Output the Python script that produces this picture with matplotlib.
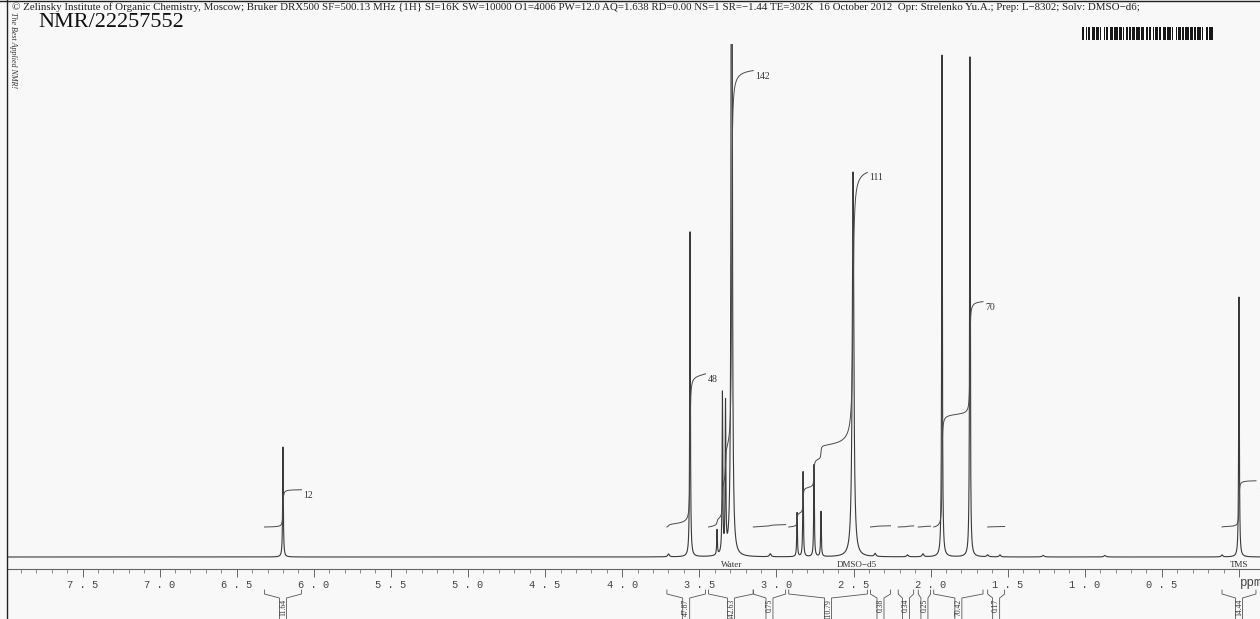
import numpy as np
import matplotlib
matplotlib.use("Agg")
import matplotlib.pyplot as plt

# 1H spectrum: shift (ppm), height (px above baseline), half width (ppm)
peak_ppm = [6.200, 3.700, 3.560, 3.385, 3.350, 3.330, 3.290, 3.040, 2.866, 2.827,
            2.756, 2.711, 2.503, 2.360, 2.150, 2.050, 1.926, 1.745, 1.630, 1.550,
            1.270, 0.870, 0.110, 0.000]
peak_height = [110, 3, 325, 25, 160, 148, 1450, 3, 44, 85,
               92, 45, 385, 3, 2, 3, 502, 500, 2, 2,
               1.5, 1.5, 2, 260]
peak_hw = [0.0025, 0.006, 0.0025, 0.0025, 0.0025, 0.0025, 0.003, 0.006, 0.0025, 0.0025,
           0.0025, 0.0025, 0.006, 0.006, 0.006, 0.006, 0.0025, 0.0025, 0.006, 0.006,
           0.008, 0.008, 0.006, 0.0025]

# integral regions (ppm) and values
int_start = [6.32, 3.71, 3.44, 3.15, 2.92, 2.39, 2.21, 2.08, 1.98, 1.63, 0.11]
int_end = [6.08, 3.46, 3.15, 2.94, 2.41, 2.26, 2.11, 2.00, 1.66, 1.52, -0.11]
int_values = [11.64, 47.87, 142.63, 0.75, 110.79, 0.38, 0.34, 0.25, 70.42, 0.17, 14.44]
int_labels = ["12", "48", "142", "", "111", "", "", "", "70", "", "14"]

solvent_names = ["Water", "DMSO\u2212d5", "TMS"]
solvent_ppm = [3.29, 2.48, 0.0]

tick_major = [7.5, 7.0, 6.5, 6.0, 5.5, 5.0, 4.5, 4.0, 3.5, 3.0, 2.5, 2.0, 1.5, 1.0, 0.5]

header = ("\u00a9 Zelinsky Institute of Organic Chemistry, Moscow; Bruker DRX500 SF=500.13 MHz {1H} "
          "SI=16K SW=10000 O1=4006 PW=12.0 AQ=1.638 RD=0.00 NS=1 SR=\u22121.44 TE=302K  "
          "16 October 2012  Opr: Strelenko Yu.A.; Prep: L\u22128302; Solv: DMSO\u2212d6;")
barcode = ("1101011011101101001011011101110110100101101101110111011010010110"
           "110111011101001011011011101101101110100110111")

W, H = 1260, 619
bg = "#f8f8f8"
ink = "#3a3a3a"


def px2ppm(px):
    return (1239 - px) / 154.2


x = np.linspace(8.1, -0.2, 60000)
spec = np.zeros_like(x)
for p, h, w in zip(peak_ppm, peak_height, peak_hw):
    spec += h * w ** 2 / ((x - p) ** 2 + w ** 2)

fig = plt.figure(figsize=(W / 100, H / 100), dpi=100, facecolor=bg)

ax = fig.add_axes([8 / W, (H - 569) / H, (W - 8) / W, (569 - 44) / H])
ax.set_facecolor(bg)
ax.plot(x, spec, color=ink, lw=0.8)
ax.set_xlim(px2ppm(8), px2ppm(W))
ax.set_ylim(-12, 513)
for s in ["top", "left", "right"]:
    ax.spines[s].set_visible(False)
ax.spines["bottom"].set_color("#666666")
ax.spines["bottom"].set_linewidth(0.8)
ax.set_yticks([])
ax.set_xticks(tick_major + [0.0])
ax.set_xticklabels([" ".join(f"{t:.1f}") for t in tick_major] + [""],
                   fontfamily="Liberation Mono", fontsize=7.5, color="#444444")
ax.set_xticks(np.arange(0.0, 8.0, 0.1), minor=True)
ax.tick_params(axis="x", which="major", direction="out", length=6, width=0.7,
               color="#666666", pad=2)
ax.tick_params(axis="x", which="minor", direction="out", length=3, width=0.6,
               color="#777777")

# overlay in pixel rows, ppm columns
ov = fig.add_axes([0, 0, 1, 1])
ov.set_xlim(px2ppm(0), px2ppm(W))
ov.set_ylim(H, 0)
ov.axis("off")
ov.patch.set_alpha(0)

ov.axvline(px2ppm(7.5), color="#222222", lw=1.0)
ov.axhline(0.5, color="#222222", lw=1.0)

ov.text(px2ppm(12), 10, header, fontsize=7.8, family="Liberation Serif",
        color="#222222", va="baseline", ha="left")
ov.text(px2ppm(38), 27, "NMR/22257552", fontsize=16, family="Liberation Serif",
        color="#111111", va="baseline", ha="left")
ov.text(px2ppm(13), 12, "The Best Applied NMR!", fontsize=5.8, family="Liberation Serif",
        style="italic", rotation=-90, color="#333333", va="top", ha="center")

bars = np.array([[int(c) for c in barcode]])
ov.imshow(bars, cmap="gray_r", aspect="auto", interpolation="nearest",
          extent=(px2ppm(1082), px2ppm(1213), 40, 27), vmin=0, vmax=1.1)
ov.set_xlim(px2ppm(0), px2ppm(W))
ov.set_ylim(H, 0)

# integral curves
base_px = 527
scale_px = 3.2
for s, e, v, lab in zip(int_start, int_end, int_values, int_labels):
    m = (x <= s) & (x >= e)
    xs = x[m]
    cum = np.cumsum(spec[m])
    ys = base_px - cum / cum[-1] * v * scale_px
    ov.plot(xs, ys, color="#4a4a4a", lw=0.7)
    if lab:
        ov.text(e - 2 / 154.2, ys[-1] + 1, lab, fontsize=7, family="Liberation Serif",
                color="#333333", ha="left", va="top")

    # bracket under the ruler
    c = (s + e) / 2
    hw = 3.5 / 154.2
    ov.plot([s, s, c + hw, c + hw], [590, 594, 598, 625], color="#555555", lw=0.6)
    ov.plot([c - hw, c - hw, e, e], [625, 598, 594, 590], color="#555555", lw=0.6)
    ov.text(c, 599, f"{v:.2f}", rotation=90, fontsize=5.5, family="Liberation Serif",
            color="#333333", ha="center", va="top")

for name, p in zip(solvent_names, solvent_ppm):
    ov.text(p, 565, name, fontsize=6.5, family="Liberation Serif", color="#333333",
            ha="center", va="center")

ov.text(px2ppm(1240), 583, "ppm", fontsize=9, family="Liberation Mono",
        color="#444444", ha="left", va="center")

fig.savefig("out.png", dpi=100, facecolor=bg)
